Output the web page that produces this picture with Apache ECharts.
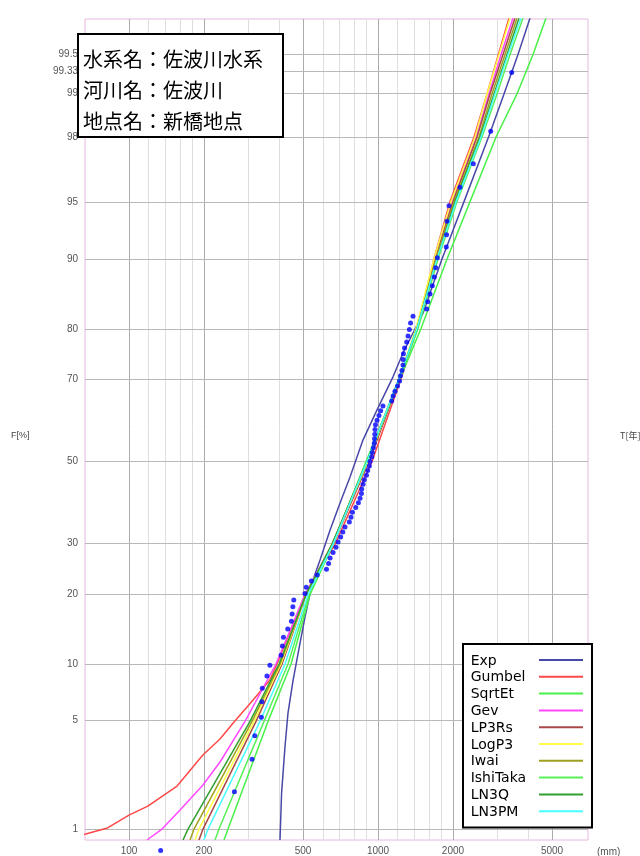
<!DOCTYPE html>
<html lang="ja"><head><meta charset="utf-8">
<script src="https://cdn.jsdelivr.net/npm/echarts@6/dist/echarts.min.js"></script>
<style>html,body{margin:0;padding:0;background:#fff}#c{width:640px;height:856px}</style>
</head><body><div id="c"></div>
<script>
// ---- observed data (mm, non-exceedance F %) ----
const obsX = [134,265,312,320,340,342,343,358,368,408,413,417,434,449,452,455,459,509,515,540,570,621,633,642,660,678,691,708,722,737,767,779,789,814,834,847,858,860,871,881,899,909,923,929,944,949,958,966,968,971,973,977,991,1009,1025,1047,1135,1150,1170,1198,1220,1231,1248,1260,1262,1265,1278,1304,1320,1336,1351,1382,1569,1584,1618,1652,1683,1705,1731,1880,1885,1892,1928,2135,2414,2836,3443];
const obsF = [0.69,1.83,2.98,4.13,5.28,6.42,7.57,8.72,9.86,11.01,12.16,13.30,14.45,15.60,16.74,17.89,19.04,20.18,21.33,22.48,23.62,24.77,25.92,27.06,28.21,29.36,30.50,31.65,32.80,33.94,35.09,36.24,37.39,38.53,39.68,40.83,41.97,43.12,44.27,45.41,46.56,47.71,48.85,50.00,51.15,52.29,53.44,54.59,55.73,56.88,58.03,59.17,60.32,61.47,62.61,63.76,64.91,66.06,67.20,68.35,69.50,70.64,71.79,72.94,74.08,75.23,76.38,77.52,78.67,79.82,80.96,82.11,83.26,84.40,85.55,86.70,87.84,88.99,90.14,91.28,92.43,93.58,94.72,95.87,97.02,98.17,99.31];

// ---- fitted curves ----
const levelsF = [0.83,1,5,10,20,30,50,70,80,90,95,98,99,99.5,99.75];
const ln3qX   = [164.8,172.6,306.2,400.4,514.0,653.6,903.2,1214.3,1434.2,1725.3,2038.2,2568.5,2923.6,3296.6,3683.7];
const iwaiX   = [175.8,182.4,311.9,404.1,514.0,653.6,903.2,1214.3,1434.2,1709.4,2019.5,2544.1,2869.8,3236.0,3615.7];
const logp3X  = [184.1,191.0,317.7,407.8,514.0,653.6,911.5,1214.3,1420.9,1678.5,1964.4,2452.6,2740.5,3061.4,3389.1];
const lp3rsX  = [191.0,198.2,323.6,411.7,514.0,659.6,920.1,1225.6,1434.2,1694.3,2000.9,2498.3,2817.6,3176.9,3549.6];
const ln3pmX  = [200.1,207.6,335.8,423.3,523.6,659.6,903.2,1214.3,1434.2,1725.3,2057.6,2592.6,2951.1,3327.3,3752.2];
const ishiX   = [221.5,229.8,348.5,435.2,528.4,659.6,903.2,1225.6,1447.6,1741.8,2076.6,2615.5,3006.0,3389.1,3822.0];
const sqrtX   = [240.7,249.8,361.6,447.4,533.4,659.6,894.8,1225.6,1488.4,1893.1,2341.8,2978.5,3615.7,4192.9,4728.4];
const gevF    = [0.83,1,1.37,2.03,2.86,5,10,20,30,50,70,80,90,95,98,99,99.5,99.75];
const gevX    = [118.1,135.7,160.3,198.2,232.0,292.4,389.4,509.2,653.6,911.5,1214.3,1434.2,1694.3,1982.6,2475.2,2791.8,3119.2,3484.8];
const gumbelF = [0.83,0.92,1.02,1.26,1.46,2.0,3.16,3.95,4.9,6.56,8.33,10,20,30,50,70,80,90,95,98,99,99.5,99.75];
const gumbelX = [54,67,82,100,119,156,198,232,262,315,368,393,509,672,946,1237,1434,1677,1946,2430,2740,3044,3358];
const expF    = [0.83,1.8,3.54,5.57,8.33,12.5,16.25,22.66,26.66,33.22,39.64,46.1,55.4,62.8,70.4,75.4,79.2,82.6,86.5,90,95,98,99,99.5,99.75];
const expX    = [404,410,423,435,456,486,509,548,585,642,704,772,870,991,1149,1260,1382,1516,1648,1807,2215,2779,3206,3649,4078];

// ---- ticks ----
const fTicks  = [1,5,10,20,30,50,70,80,90,95,98,99,99.33,99.5];
const fLabels = ['1','5','10','20','30','50','70','80','90','95','98','99','99.33','99.5'];
const tTickF  = [80,90,95,98,99,99.333,99.5];
const tLabels = ['5','10','20','50','100','150','200'];
const xMajor  = [100,200,500,1000,2000,5000];
const xMajorLabels = ['100','200','500','1000','2000','5000'];
const xMinor  = [120,140,160,180,300,400,600,700,800,900,1200,1400,1600,1800,3000,4000];
const legendNames = ['Exp','Gumbel','SqrtEt','Gev','LP3Rs','LogP3','Iwai','IshiTaka','LN3Q','LN3PM'];

// inverse standard normal (probability paper transform)
function probit(p){
  const a=[-3.969683028665376e+01,2.209460984245205e+02,-2.759285104469687e+02,1.383577518672690e+02,-3.066479806614716e+01,2.506628277459239e+00];
  const b=[-5.447609879822406e+01,1.615858368580409e+02,-1.556989798598866e+02,6.680131188771972e+01,-1.328068155288572e+01];
  const c=[-7.784894002430293e-03,-3.223964580411365e-01,-2.400758277161838e+00,-2.549732539343734e+00,4.374664141464968e+00,2.938163982698783e+00];
  const d=[7.784695709041462e-03,3.224671290700398e-01,2.445134137142996e+00,3.754408661907416e+00];
  const pl=0.02425, ph=1-pl; let q,r;
  if(p<pl){q=Math.sqrt(-2*Math.log(p));return (((((c[0]*q+c[1])*q+c[2])*q+c[3])*q+c[4])*q+c[5])/((((d[0]*q+d[1])*q+d[2])*q+d[3])*q+1);}
  if(p<=ph){q=p-0.5;r=q*q;return (((((a[0]*r+a[1])*r+a[2])*r+a[3])*r+a[4])*r+a[5])*q/(((((b[0]*r+b[1])*r+b[2])*r+b[3])*r+b[4])*r+1);}
  q=Math.sqrt(-2*Math.log(1-p));return -(((((c[0]*q+c[1])*q+c[2])*q+c[3])*q+c[4])*q+c[5])/((((d[0]*q+d[1])*q+d[2])*q+d[3])*q+1);
}
const Z = f => probit(f/100);
const pairs = (xs, fs) => xs.map((x,i)=>[x, Z(fs[i])]);

const curves = [
  {name:'Exp',      color:'#4848a8', data:pairs(expX, expF)},
  {name:'Gumbel',   color:'#ff4848', data:pairs(gumbelX, gumbelF)},
  {name:'SqrtEt',   color:'#48f048', data:pairs(sqrtX, levelsF)},
  {name:'Gev',      color:'#ff48ff', data:pairs(gevX, gevF)},
  {name:'LP3Rs',    color:'#a84848', data:pairs(lp3rsX, levelsF)},
  {name:'LogP3',    color:'#ffff48', data:pairs(logp3X, levelsF)},
  {name:'Iwai',     color:'#a0a020', data:pairs(iwaiX, levelsF)},
  {name:'IshiTaka', color:'#58f058', data:pairs(ishiX, levelsF)},
  {name:'LN3Q',     color:'#30a030', data:pairs(ln3qX, levelsF)},
  {name:'LN3PM',    color:'#48ffff', data:pairs(ln3pmX, levelsF)}
];

const labelFont = {fontSize:10, color:'#555', fontFamily:'Liberation Sans'};
const series = [];
series.push({type:'line', name:'_minor', data:[], silent:true,
  markLine:{z:1, silent:true, symbol:['none','none'], animation:false,
    lineStyle:{color:'#dedede', width:1, type:'solid'}, label:{show:false},
    data: xMinor.map(v=>({xAxis:v}))}});
series.push({type:'line', name:'_major', data:[], silent:true,
  markLine:{z:1, silent:true, symbol:['none','none'], animation:false,
    lineStyle:{color:'#ababab', width:1, type:'solid'},
    label:Object.assign({show:true, position:'start', distance:6, formatter:'{b}'}, labelFont),
    data: xMajor.map((v,i)=>({xAxis:v, name:xMajorLabels[i]}))}});
series.push({type:'line', name:'_hf', data:[], silent:true,
  markLine:{z:1, silent:true, symbol:['none','none'], animation:false,
    lineStyle:{color:'#b8b8b8', width:1, type:'solid'},
    label:Object.assign({show:true, position:'start', distance:7, formatter:'{b}'}, labelFont),
    data: fTicks.map((f,i)=>({yAxis:Z(f), name:fLabels[i]}))}});
series.push({type:'line', name:'_ht', data:[], silent:true,
  markLine:{z:1, silent:true, symbol:['none','none'], animation:false,
    lineStyle:{opacity:0},
    label:Object.assign({show:true, position:'end', distance:7, formatter:'{b}'}, labelFont),
    data: tTickF.map((f,i)=>({yAxis:Z(f), name:tLabels[i]}))}});
curves.forEach(c=>series.push({type:'line', name:c.name, data:c.data, symbol:'none', z:3,
  lineStyle:{color:c.color, width:1.5}, itemStyle:{color:c.color}, animation:false}));
series.push({type:'scatter', name:'obs', data:pairs(obsX, obsF), symbolSize:5, clip:false, z:5,
  itemStyle:{color:'#0000ff'}, animation:false});

const jp = '"Noto Sans CJK JP", "Noto Sans CJK TC", sans-serif';
const chart = echarts.init(document.getElementById('c'), null, {renderer:'canvas'});
chart.setOption({
  animation:false,
  backgroundColor:'#fff',
  grid:{left:85, right:52, top:19, bottom:16, show:true, borderColor:'#e8b8e0', borderWidth:1, backgroundColor:'transparent'},
  xAxis:{type:'log', logBase:10, min:66.57, max:6971, axisLine:{show:false}, axisTick:{show:false}, axisLabel:{show:false}, splitLine:{show:false}},
  yAxis:{type:'value', min:Z(0.830), max:Z(99.745), axisLine:{show:false}, axisTick:{show:false}, axisLabel:{show:false}, splitLine:{show:false}},
  legend:[
    // box with line samples
    {data:legendNames, orient:'vertical', left:463, top:644, align:'left', z:4,
     backgroundColor:'#fff', borderColor:'#000', borderWidth:2, padding:[10.4,4,10.6,75],
     itemWidth:44, itemHeight:14, itemGap:5.6, selectedMode:false,
     itemStyle:{opacity:0}, formatter:()=>'',
     textStyle:{fontSize:14, lineHeight:14}},
    // names, left aligned
    {data:legendNames, orient:'vertical', left:459.6, top:654, align:'left', z:5,
     padding:0, itemWidth:1, itemHeight:14, itemGap:2.8, selectedMode:false,
     itemStyle:{opacity:0}, lineStyle:{opacity:0},
     textStyle:{fontSize:14, color:'#000', fontFamily:'DejaVu Sans', lineHeight:14}}
  ],
  graphic:[
    {type:'rect', z:10, shape:{x:78, y:34, width:205, height:103}, style:{fill:'#fff', stroke:'#000', lineWidth:2}},
    {type:'text', z:11, x:83, y:59.5, style:{text:'水系名：佐波川水系', fontSize:20, fontFamily:jp, fill:'#000', verticalAlign:'middle'}},
    {type:'text', z:11, x:83, y:90.5, style:{text:'河川名：佐波川', fontSize:20, fontFamily:jp, fill:'#000', verticalAlign:'middle'}},
    {type:'text', z:11, x:83, y:121.5, style:{text:'地点名：新橋地点', fontSize:20, fontFamily:jp, fill:'#000', verticalAlign:'middle'}},
    {type:'text', z:11, x:11, y:436, style:{text:'F[%]', fontSize:9, fontFamily:'Liberation Sans', fill:'#444', verticalAlign:'middle'}},
    {type:'text', z:11, x:620, y:436, style:{text:'T[年]', fontSize:9, fontFamily:jp, fill:'#444', verticalAlign:'middle'}},
    {type:'text', z:11, x:597, y:852, style:{text:'(mm)', fontSize:10, fontFamily:'Liberation Sans', fill:'#555', verticalAlign:'middle'}}
  ],
  series: series
});
</script></body></html>
